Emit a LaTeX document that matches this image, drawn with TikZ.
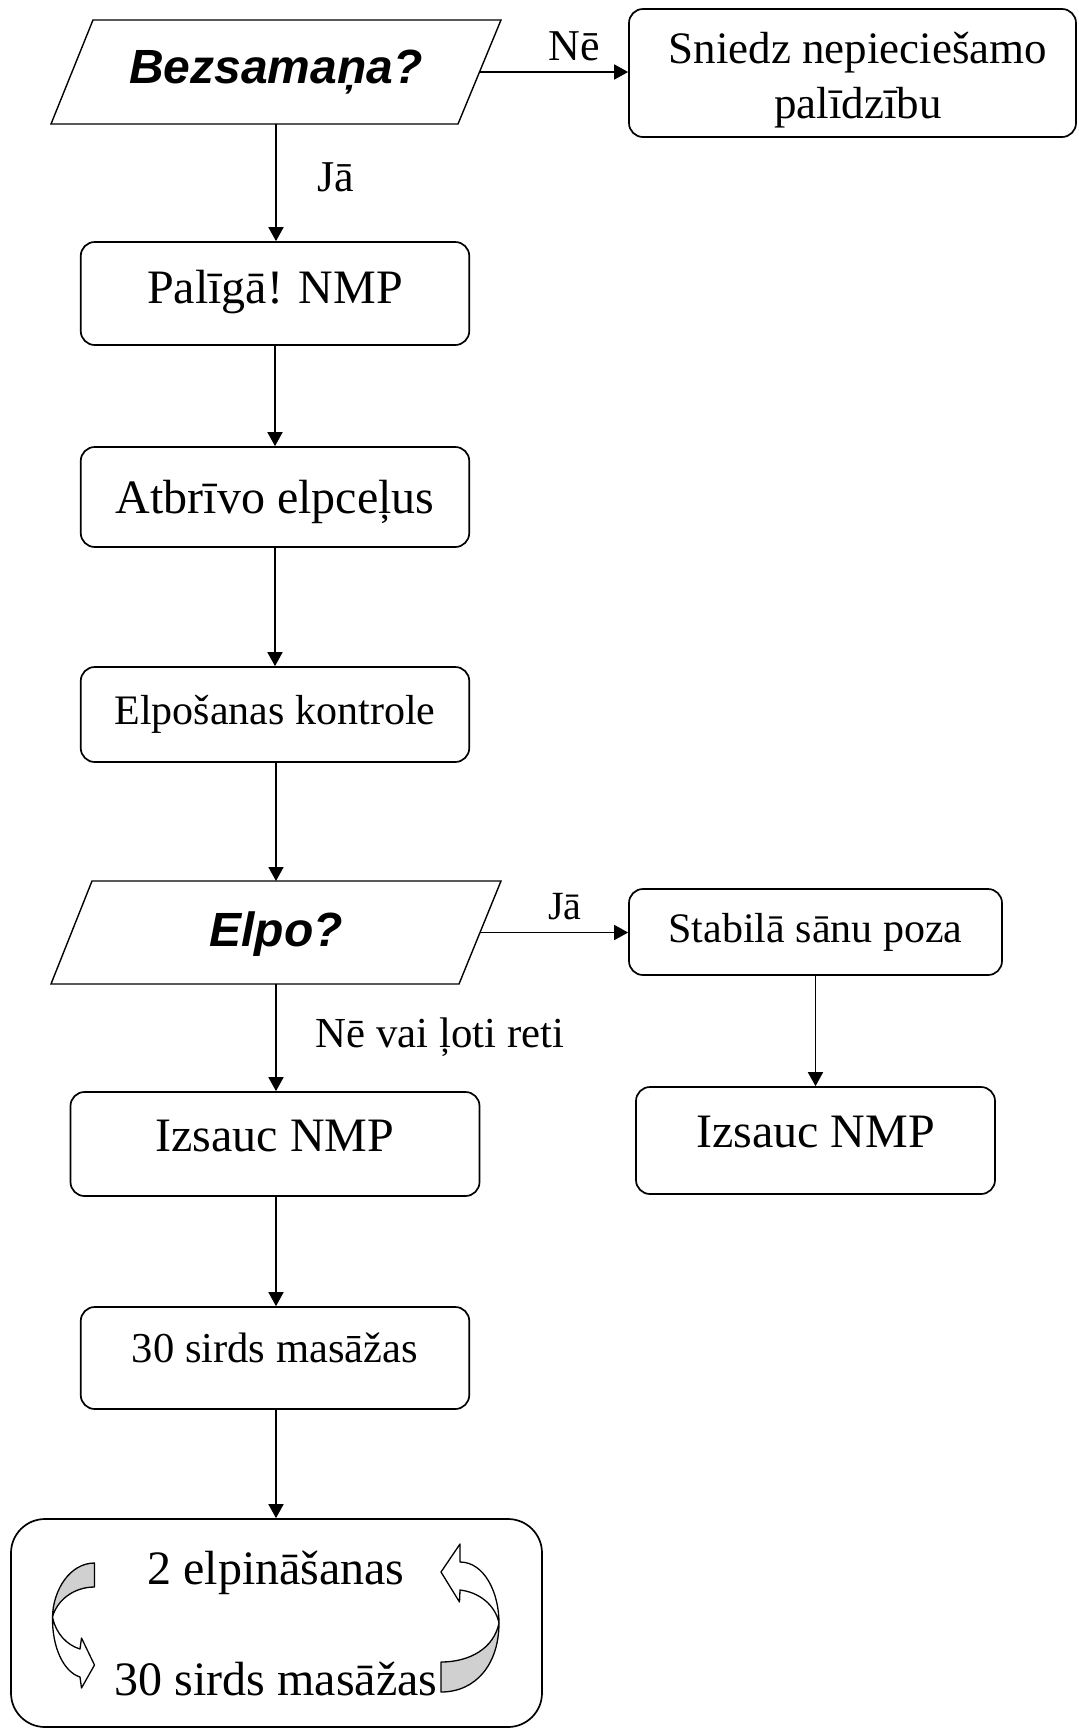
\documentclass[tikz,border=0pt]{standalone}
\usepackage{fontspec}
\setmainfont{Liberation Serif}
\newfontfamily\arialfont{Liberation Sans}
\usetikzlibrary{arrows.meta}
\definecolor{bandgray}{RGB}{208,208,208}
\begin{document}
\begin{tikzpicture}[x=0.5pt,y=-0.5pt,
  box/.style={draw, line width=0.85pt, rounded corners=7pt, inner sep=0pt},
  paraline/.style={draw, line width=0.7pt, line join=miter},
  qtext/.style={inner sep=0pt, font=\arialfont\bfseries\itshape\fontsize{24}{28}\selectfont},
  txt/.style={inner sep=0pt, align=center},
  conn/.style={line width=0.85pt, -{Triangle[length=7pt,width=7.5pt]}},
  lbl/.style={inner sep=0pt, font=\fontsize{22}{26}\selectfont},
  big/.style={font=\fontsize{24}{28}\selectfont},
  mid/.style={font=\fontsize{21}{26}\selectfont},
  band/.style={draw, line width=0.65pt, line join=round}]
\useasboundingbox (0,0) rectangle (1079,1730);

% decisions (parallelograms)
\draw[paraline] (93,20) -- (501,20) -- (458,124) -- (51,124) -- cycle;
\coordinate (q1s) at (276,124);
\coordinate (q1e) at (479.5,72);
\node[qtext] (q1) at (276,72) {Bezsamaņa?};

\draw[paraline] (92,881) -- (501,881) -- (459,984) -- (51,984) -- cycle;
\coordinate (q2n) at (276,881);
\coordinate (q2s) at (276,984);
\coordinate (q2e) at (480,932.5);
\node[qtext] (q2) at (276,934) {Elpo?};

% boxes
\node[box, minimum width=223.5pt, minimum height=64pt] (sniedz) at (852.5,73) {};
\node[txt, font=\fontsize{22.5}{27.5}\selectfont] (sniedzT) at (858,80) {Sniedz nepieciešamo\\palīdzību};
\node[box, big, minimum width=194.25pt, minimum height=51.5pt] (paliga) at (275,293.5) {};
\node[txt, big] (paligaT) at (275,292) {Palīgā! NMP};
\node[box, minimum width=194.25pt, minimum height=50pt] (atbrivo) at (275,497) {};
\node[txt, big] (atbrivoT) at (275,502) {Atbrīvo elpceļus};
\node[box, minimum width=194.25pt, minimum height=47.5pt] (kontrole) at (275,714.5) {};
\node[txt, mid] (kontroleT) at (275,714.5) {Elpošanas kontrole};
\node[box, minimum width=186.5pt, minimum height=43pt] (stabila) at (815.5,932) {};
\node[txt, font=\fontsize{21}{25}\selectfont] (stabilaT) at (815.5,932) {Stabilā sānu poza};
\node[box, minimum width=179.5pt, minimum height=53.5pt] (izsaucR) at (815.5,1140.5) {};
\node[txt, big] (izsaucRT) at (815.5,1132.5) {Izsauc NMP};
\node[box, minimum width=204.5pt, minimum height=52pt] (izsaucL) at (275,1144) {};
\node[txt, big] (izsaucLT) at (275,1136) {Izsauc NMP};
\node[box, minimum width=194.25pt, minimum height=51pt] (sirds) at (275,1358) {};
\node[txt, font=\fontsize{21.3}{26}\selectfont] (sirdsT) at (275,1348) {30 sirds masāžas};
\node[box, rounded corners=17pt, minimum width=265.5pt, minimum height=104pt] (cikls) at (276.5,1623) {};

% connectors
\draw[conn] (q1e) -- (q1e -| sniedz.west);
\draw[conn] (q1s) -- (q1s |- paliga.north);
\draw[conn] (paliga.south) -- (paliga.south |- atbrivo.north);
\draw[conn] (atbrivo.south) -- (atbrivo.south |- kontrole.north);
\draw[conn] (kontrole.south -| q2n) -- (q2n);
\draw[conn] (q2e) -- (q2e -| stabila.west);
\draw[conn] (stabila.south) -- (stabila.south |- izsaucR.north);
\draw[conn] (q2s) -- (q2s |- izsaucL.north);
\draw[conn] (izsaucL.south -| q2s) -- (q2s |- sirds.north);
\draw[conn] (sirds.south -| q2s) -- (q2s |- cikls.north);

% labels
\node[lbl] (lne) at (574,46) {Nē};
\node[lbl] (lja1) at (336,177) {Jā};
\node[lbl, font=\fontsize{20}{24}\selectfont] (lja2) at (565,907) {Jā};
\node[lbl, font=\fontsize{21.4}{26}\selectfont] (lnevai) at (440,1037) {Nē vai ļoti reti};

% cycle texts
\node[big, inner sep=0pt] (elpin) at (276,1573) {2 elpināšanas};
\node[big, inner sep=0pt] (masaz) at (276,1679) {30 sirds masāžas};

% left curved arrow
\draw[band, fill=bandgray] (94.5,1563) .. controls (70,1563) and (53,1590) .. (52.5,1617)
  .. controls (57,1600) and (74,1587) .. (94.5,1587) -- cycle;
\draw[band, fill=white] (52.5,1617) .. controls (52,1648) and (64,1672) .. (80,1677)
  -- (81.5,1688) -- (94.5,1665) -- (81.5,1638) -- (80,1649)
  .. controls (67,1645) and (56,1634) .. (52.5,1617) -- cycle;

% right curved arrow
\draw[band, fill=bandgray] (499,1623) .. controls (499,1664) and (476,1692) .. (441,1692)
  -- (441,1662) .. controls (470,1662) and (494,1648) .. (499,1623) -- cycle;
\draw[band, fill=white] (499,1623) .. controls (499,1592) and (484,1562) .. (460,1562)
  -- (460,1544) -- (441,1572) -- (459.5,1602) -- (460,1590)
  .. controls (478,1592) and (495,1604) .. (499,1623) -- cycle;
\end{tikzpicture}
\end{document}
